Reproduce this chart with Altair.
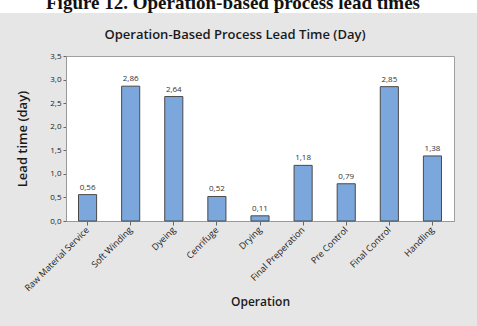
import altair as alt
import pandas as pd

# Operations and their lead times in days
operations = [
    "Raw Material Service", "Soft Winding", "Dyeing", "Cenrifuge", "Drying",
    "Final Preperation", "Pre Control", "Final Control", "Handling",
]
lead_times = [0.56, 2.86, 2.64, 0.52, 0.11, 1.18, 0.79, 2.85, 1.38]
y_ticks = [0.0, 0.5, 1.0, 1.5, 2.0, 2.5, 3.0, 3.5]

caption = "Figure 12. Operation-based process lead times"
chart_title = "Operation-Based Process Lead Time (Day)"

df = pd.DataFrame({"Operation": operations, "Lead": lead_times})
df["label"] = [f"{v:.2f}".replace(".", ",") for v in lead_times]

W, H = 388, 165
PAD_L, PAD_T = 66, 56
FONT = "Open Sans"

x_enc = alt.X(
    "Operation:N",
    sort=operations,
    scale=alt.Scale(paddingInner=0.58, paddingOuter=0.29),
    axis=alt.Axis(
        title="Operation", titleFont=FONT, titleFontSize=12, titleFontWeight=600,
        titleColor="#1a1a1a", titlePadding=4,
        labelAngle=-45, labelAlign="right", labelBaseline="middle",
        labelFont=FONT, labelFontSize=9, labelColor="#1a1a1a",
        labelPadding=3, tickSize=4, tickColor="#666", domainColor="#999",
    ),
)
y_enc = alt.Y(
    "Lead:Q",
    scale=alt.Scale(domain=[0, 3.5], nice=False),
    axis=alt.Axis(
        title="Lead time (day)", titleFont=FONT, titleFontSize=13, titleFontWeight=600,
        titleColor="#1a1a1a", titlePadding=20,
        values=y_ticks, grid=False, labelOverlap=False,
        labelExpr="replace(format(datum.value, '.1f'), '.', ',')",
        labelFont=FONT, labelFontSize=8, labelColor="#1a1a1a",
        tickSize=3, tickColor="#666", domainColor="#999",
    ),
)

base = alt.Chart(df).encode(x=x_enc, y=y_enc)

bars = base.mark_bar(color="#7ba7dc", stroke="#4a4a4a", strokeWidth=1)
values = base.mark_text(dy=-7, fontSize=8, font=FONT, color="#333").encode(text="label:N")

# White strip holding the figure caption
strip = alt.Chart(pd.DataFrame({"t": [caption]})).mark_rect(
    color="white", clip=False
).encode(
    x=alt.value(-PAD_L), x2=alt.value(477 - PAD_L),
    y=alt.value(-PAD_T), y2=alt.value(13 - PAD_T),
)
cap = alt.Chart(pd.DataFrame({"t": [caption]})).mark_text(
    font="Liberation Serif", fontSize=19, fontWeight="bold", color="#111",
    align="center", baseline="alphabetic", clip=False,
).encode(text="t:N", x=alt.value(233 - PAD_L), y=alt.value(9 - PAD_T))

# Chart heading inside the grey panel
head = alt.Chart(pd.DataFrame({"t": [chart_title]})).mark_text(
    font=FONT, fontSize=13, fontWeight=600, color="#1a1a1a",
    align="center", baseline="middle", clip=False,
).encode(text="t:N", x=alt.value(235 - PAD_L), y=alt.value(35 - PAD_T))

chart = alt.layer(bars, values, strip, cap, head).properties(
    width=W, height=H,
    autosize=alt.AutoSizeParams(type="none"),
    padding={"left": PAD_L, "top": PAD_T, "right": 477 - PAD_L - W, "bottom": 326 - PAD_T - H},
    background="#e6e6e6",
).configure_view(
    fill="white", stroke="#a0a0a0", strokeWidth=1
)

chart.save("out.html", embed_options={"renderer": "svg", "actions": False})
